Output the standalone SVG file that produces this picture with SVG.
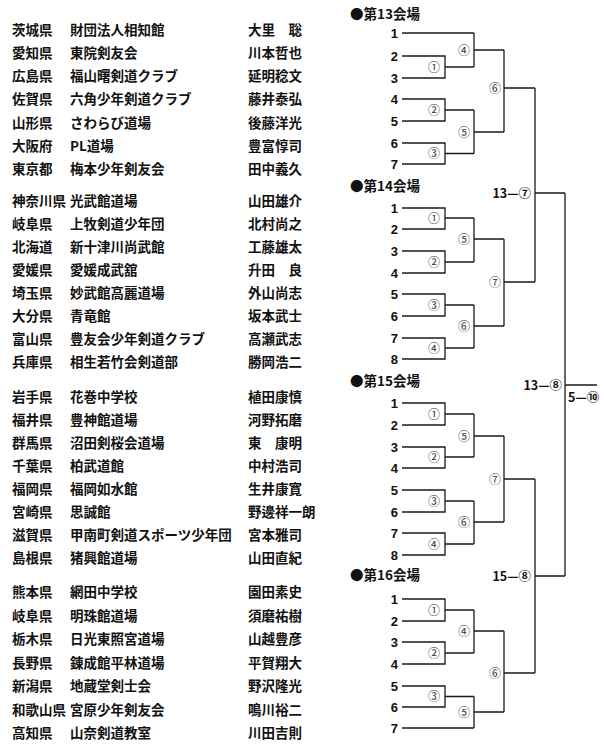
<svg xmlns="http://www.w3.org/2000/svg" width="604" height="745" viewBox="0 0 604 745">
<style>
.t{font-family:"Noto Sans CJK JP","Noto Sans CJK SC",sans-serif;font-size:13.5px;font-weight:bold;fill:#111}
.h{font-family:"Noto Sans CJK JP","Noto Sans CJK SC",sans-serif;font-size:13.5px;font-weight:bold;fill:#111}
.n{font-family:"Liberation Sans",Arial,sans-serif;font-size:13px;font-weight:bold;fill:#111;text-anchor:end}
.c{font-family:"Noto Sans CJK JP","Noto Sans CJK SC",sans-serif;font-size:12px;fill:#333;text-anchor:middle}
.s{font-family:"Noto Sans CJK JP","Noto Sans CJK SC",sans-serif;font-size:12.5px;font-weight:bold;fill:#111}
.ln{fill:none;stroke:#1a1a1a;stroke-width:1.3}
</style>
<rect width="604" height="745" fill="#fff"/>
<g id="list">
<g id="r1"><text class="t" x="12" y="35">茨城県</text><text class="t" x="70" y="35">財団法人相知館</text><text class="t" x="248" y="35">大里　聡</text></g>
<g id="r2"><text class="t" x="12" y="58">愛知県</text><text class="t" x="70" y="58">東院剣友会</text><text class="t" x="248" y="58">川本哲也</text></g>
<g id="r3"><text class="t" x="12" y="81">広島県</text><text class="t" x="70" y="81">福山曙剣道クラブ</text><text class="t" x="248" y="81">延明稔文</text></g>
<g id="r4"><text class="t" x="12" y="104">佐賀県</text><text class="t" x="70" y="104">六角少年剣道クラブ</text><text class="t" x="248" y="104">藤井泰弘</text></g>
<g id="r5"><text class="t" x="12" y="128">山形県</text><text class="t" x="70" y="128">さわらび道場</text><text class="t" x="248" y="128">後藤洋光</text></g>
<g id="r6"><text class="t" x="12" y="151">大阪府</text><text class="t" x="70" y="151">PL道場</text><text class="t" x="248" y="151">豊富惇司</text></g>
<g id="r7"><text class="t" x="12" y="174">東京都</text><text class="t" x="70" y="174">梅本少年剣友会</text><text class="t" x="248" y="174">田中義久</text></g>

<g id="r8"><text class="t" x="12" y="206">神奈川県</text><text class="t" x="70" y="206">光武館道場</text><text class="t" x="248" y="206">山田雄介</text></g>
<g id="r9"><text class="t" x="12" y="229">岐阜県</text><text class="t" x="70" y="229">上牧剣道少年団</text><text class="t" x="248" y="229">北村尚之</text></g>
<g id="r10"><text class="t" x="12" y="252">北海道</text><text class="t" x="70" y="252">新十津川尚武館</text><text class="t" x="248" y="252">工藤雄太</text></g>
<g id="r11"><text class="t" x="12" y="275">愛媛県</text><text class="t" x="70" y="275">愛媛成武舘</text><text class="t" x="248" y="275">升田　良</text></g>
<g id="r12"><text class="t" x="12" y="298">埼玉県</text><text class="t" x="70" y="298">妙武館高麗道場</text><text class="t" x="248" y="298">外山尚志</text></g>
<g id="r13"><text class="t" x="12" y="321">大分県</text><text class="t" x="70" y="321">青竜館</text><text class="t" x="248" y="321">坂本武士</text></g>
<g id="r14"><text class="t" x="12" y="344">富山県</text><text class="t" x="70" y="344">豊友会少年剣道クラブ</text><text class="t" x="248" y="344">高瀬武志</text></g>
<g id="r15"><text class="t" x="12" y="367">兵庫県</text><text class="t" x="70" y="367">相生若竹会剣道部</text><text class="t" x="248" y="367">勝岡浩二</text></g>

<g id="r16"><text class="t" x="12" y="402">岩手県</text><text class="t" x="70" y="402">花巻中学校</text><text class="t" x="248" y="402">植田康慎</text></g>
<g id="r17"><text class="t" x="12" y="425">福井県</text><text class="t" x="70" y="425">豊神館道場</text><text class="t" x="248" y="425">河野拓磨</text></g>
<g id="r18"><text class="t" x="12" y="448">群馬県</text><text class="t" x="70" y="448">沼田剣桜会道場</text><text class="t" x="248" y="448">東　康明</text></g>
<g id="r19"><text class="t" x="12" y="471">千葉県</text><text class="t" x="70" y="471">柏武道館</text><text class="t" x="248" y="471">中村浩司</text></g>
<g id="r20"><text class="t" x="12" y="494">福岡県</text><text class="t" x="70" y="494">福岡如水館</text><text class="t" x="248" y="494">生井康寛</text></g>
<g id="r21"><text class="t" x="12" y="517">宮崎県</text><text class="t" x="70" y="517">思誠館</text><text class="t" x="248" y="517">野邊祥一朗</text></g>
<g id="r22"><text class="t" x="12" y="540">滋賀県</text><text class="t" x="70" y="540">甲南町剣道スポーツ少年団</text><text class="t" x="248" y="540">宮本雅司</text></g>
<g id="r23"><text class="t" x="12" y="563">島根県</text><text class="t" x="70" y="563">猪興館道場</text><text class="t" x="248" y="563">山田直紀</text></g>

<g id="r24"><text class="t" x="12" y="597">熊本県</text><text class="t" x="70" y="597">網田中学校</text><text class="t" x="248" y="597">園田素史</text></g>
<g id="r25"><text class="t" x="12" y="621">岐阜県</text><text class="t" x="70" y="621">明珠館道場</text><text class="t" x="248" y="621">須磨祐樹</text></g>
<g id="r26"><text class="t" x="12" y="644">栃木県</text><text class="t" x="70" y="644">日光東照宮道場</text><text class="t" x="248" y="644">山越豊彦</text></g>
<g id="r27"><text class="t" x="12" y="668">長野県</text><text class="t" x="70" y="668">錬成館平林道場</text><text class="t" x="248" y="668">平賀翔大</text></g>
<g id="r28"><text class="t" x="12" y="691">新潟県</text><text class="t" x="70" y="691">地蔵堂剣士会</text><text class="t" x="248" y="691">野沢隆光</text></g>
<g id="r29"><text class="t" x="12" y="715">和歌山県</text><text class="t" x="70" y="715">宮原少年剣友会</text><text class="t" x="248" y="715">鳴川裕二</text></g>
<g id="r30"><text class="t" x="12" y="738">高知県</text><text class="t" x="70" y="738">山奈剣道教室</text><text class="t" x="248" y="738">川田吉則</text></g>
</g>

<g id="connectors" class="ln">
<path d="M402,33 H474 M402,56 H445 V78 H402 M445,67 H474 M474,33 V67 M474,50 H504 M402,99 H445 V121 H402 M445,110 H474 M402,143 H445 V164 H402 M445,153.5 H474 M474,110 V153.5 M474,132 H504 M504,50 V132 M504,88 H535"/>
<path d="M402,208 H445 V229 H402 M445,218 H474 M402,251 H445 V273 H402 M445,262 H474 M474,218 V262 M474,239 H504 M402,294 H445 V316 H402 M445,305 H474 M402,338 H445 V359 H402 M445,348 H474 M474,305 V348 M474,326 H504 M504,239 V326 M504,282 H535"/>
<path d="M402,403 H445 V425 H402 M445,414 H474 M402,447 H445 V468 H402 M445,457 H474 M474,414 V457 M474,436 H504 M402,490 H445 V512 H402 M445,501 H474 M402,533 H445 V555 H402 M445,544 H474 M474,501 V544 M474,522 H504 M504,436 V522 M504,479 H535"/>
<path d="M402,599 H445 V621 H402 M445,610 H474 M402,642 H445 V664 H402 M445,653 H474 M474,610 V653 M474,631 H504 M402,686 H445 V707 H402 M445,696.5 H474 M402,728 H474 M474,696.5 V728 M474,712 H504 M504,631 V712 M504,673 H535"/>
<path d="M535,88 V282 M535,193 H565 M535,479 V673 M535,576 H565 M565,193 V576 M565,385 H597"/>
</g>

<g id="b13">
<text class="h" x="350" y="19">●第13会場</text>
<text class="n" x="398" y="38">1</text><text class="n" x="398" y="61">2</text><text class="n" x="398" y="83">3</text><text class="n" x="398" y="104">4</text><text class="n" x="398" y="126">5</text><text class="n" x="398" y="148">6</text><text class="n" x="398" y="169">7</text>
<text class="c" x="434" y="71.5">①</text><text class="c" x="434" y="114.5">②</text><text class="c" x="434" y="157.5">③</text><text class="c" x="464" y="54.5">④</text><text class="c" x="464" y="136.5">⑤</text><text class="c" x="495" y="92.5">⑥</text>
</g>
<g id="b14">
<text class="h" x="350" y="191">●第14会場</text>
<text class="n" x="398" y="213">1</text><text class="n" x="398" y="234">2</text><text class="n" x="398" y="256">3</text><text class="n" x="398" y="278">4</text><text class="n" x="398" y="299">5</text><text class="n" x="398" y="321">6</text><text class="n" x="398" y="343">7</text><text class="n" x="398" y="364">8</text>
<text class="c" x="434" y="222.5">①</text><text class="c" x="434" y="266.5">②</text><text class="c" x="434" y="309.5">③</text><text class="c" x="434" y="352.5">④</text><text class="c" x="464" y="243.5">⑤</text><text class="c" x="464" y="330.5">⑥</text><text class="c" x="495" y="286.5">⑦</text>
</g>
<g id="b15">
<text class="h" x="350" y="386">●第15会場</text>
<text class="n" x="398" y="408">1</text><text class="n" x="398" y="430">2</text><text class="n" x="398" y="452">3</text><text class="n" x="398" y="473">4</text><text class="n" x="398" y="495">5</text><text class="n" x="398" y="517">6</text><text class="n" x="398" y="538">7</text><text class="n" x="398" y="560">8</text>
<text class="c" x="434" y="418.5">①</text><text class="c" x="434" y="461.5">②</text><text class="c" x="434" y="505.5">③</text><text class="c" x="434" y="548.5">④</text><text class="c" x="464" y="440.5">⑤</text><text class="c" x="464" y="526.5">⑥</text><text class="c" x="495" y="483.5">⑦</text>
</g>
<g id="b16">
<text class="h" x="350" y="580">●第16会場</text>
<text class="n" x="398" y="604">1</text><text class="n" x="398" y="626">2</text><text class="n" x="398" y="647">3</text><text class="n" x="398" y="669">4</text><text class="n" x="398" y="691">5</text><text class="n" x="398" y="712">6</text><text class="n" x="398" y="733">7</text>
<text class="c" x="434" y="614.5">①</text><text class="c" x="434" y="657.5">②</text><text class="c" x="434" y="700.5">③</text><text class="c" x="464" y="635.5">④</text><text class="c" x="464" y="716.5">⑤</text><text class="c" x="495" y="677.5">⑥</text>
</g>
<g id="scores">
<text class="s" x="531" y="197.5" text-anchor="end">13—⑦</text>
<text class="s" x="531" y="580.5" text-anchor="end">15—⑧</text>
<text class="s" x="562" y="389.5" text-anchor="end">13—⑧</text>
<text class="s" x="568" y="402">5—⑩</text>
</g>
</svg>
